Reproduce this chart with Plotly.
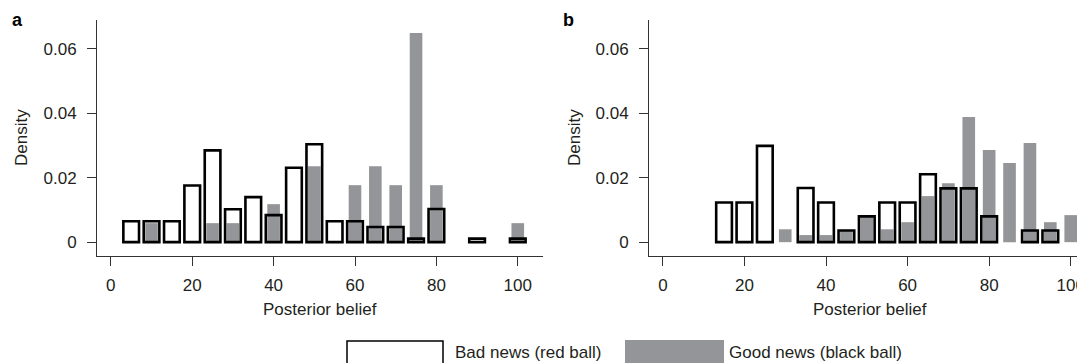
import plotly.graph_objects as go

# ---- data (bin centres in posterior belief, densities) ----
bins_a_bad = [5, 10, 15, 20, 25, 30, 35, 40, 45, 50, 55, 60, 65, 70, 75, 80, 90, 100]
dens_a_bad = [0.0065, 0.0065, 0.0065, 0.0176, 0.0285, 0.0102, 0.0140, 0.0084, 0.0231, 0.0304,
              0.0065, 0.0065, 0.0047, 0.0047, 0.0011, 0.0103, 0.0011, 0.0011]
bins_a_good = [10, 25, 30, 40, 50, 60, 65, 70, 75, 80, 100]
dens_a_good = [0.0059, 0.0059, 0.0059, 0.0118, 0.0236, 0.0177, 0.0236, 0.0177, 0.0650, 0.0177, 0.0059]

bins_b_bad = [15, 20, 25, 35, 40, 45, 50, 55, 60, 65, 70, 75, 80, 90, 95]
dens_b_bad = [0.0123, 0.0123, 0.0299, 0.0168, 0.0123, 0.0036, 0.0080, 0.0123, 0.0123, 0.0211,
              0.0167, 0.0167, 0.0080, 0.0036, 0.0036]
bins_b_good = [30, 35, 40, 45, 50, 55, 60, 65, 70, 75, 80, 85, 90, 95, 100]
dens_b_good = [0.0040, 0.0022, 0.0022, 0.0038, 0.0082, 0.0040, 0.0062, 0.0143, 0.0183, 0.0389,
               0.0286, 0.0246, 0.0308, 0.0062, 0.0084]

x_ticks = [0, 20, 40, 60, 80, 100]
y_ticks = [0, 0.02, 0.04, 0.06]
y_ticklabels = ["0", "0.02", "0.04", "0.06"]
legend_labels = ["Bad news (red ball)", "Good news (black ball)"]
panel_labels = ["a", "b"]
x_title = "Posterior belief"
y_title = "Density"

# the page body has an 8 px margin; size the figure so it fills the window exactly
OFF = 8
W, H = 1085 - OFF, 363 - OFF
FONT = "Liberation Sans, Arial, Helvetica, sans-serif"
TXT = "#231f20"
GRAY = "#939598"
AX = "#333333"

fig = go.Figure()

panels = [
    ("x", "y", bins_a_bad, dens_a_bad, bins_a_good, dens_a_good),
    ("x2", "y2", bins_b_bad, dens_b_bad, bins_b_good, dens_b_good),
]
for xa, ya, bb, db, bg, dg in panels:
    fig.add_trace(go.Bar(x=bg, y=dg, width=3.1, marker=dict(color=GRAY, line=dict(width=0)),
                         xaxis=xa, yaxis=ya, showlegend=False, hoverinfo="x+y"))
    fig.add_trace(go.Bar(x=bb, y=db, width=3.85,
                         marker=dict(color="rgba(255,255,255,0)", line=dict(color="#000000", width=2.6)),
                         xaxis=xa, yaxis=ya, showlegend=False, hoverinfo="x+y"))


def px_x(p):
    """window pixel -> paper fraction"""
    return (p - OFF) / W


def px_y(p):
    return (H - (p - OFF)) / H


common_x = dict(tickmode="array", tickvals=x_ticks, ticks="outside", ticklen=9, tickwidth=1,
                tickcolor=AX, showline=True, linecolor=AX, linewidth=1, showgrid=False,
                zeroline=False, tickfont=dict(size=17, color=TXT, family=FONT),
                ticklabelstandoff=5, ticklabeloverflow="allow")
common_y = dict(tickmode="array", tickvals=y_ticks, ticktext=y_ticklabels, ticks="outside",
                ticklen=9, tickwidth=1, tickcolor=AX, showline=True, linecolor=AX, linewidth=1,
                showgrid=False, zeroline=False, range=[-0.0043, 0.069],
                tickfont=dict(size=17, color=TXT, family=FONT), ticklabelstandoff=7)

fig.update_layout(
    width=W, height=H,
    margin=dict(l=0, r=0, t=0, b=0),
    paper_bgcolor="white", plot_bgcolor="white",
    barmode="overlay",
    font=dict(family=FONT, color=TXT, size=17),
    xaxis=dict(domain=[px_x(97), px_x(543)], range=[-3.4, 106.2], anchor="y", **common_x),
    yaxis=dict(domain=[px_y(256), px_y(20)], anchor="x", **common_y),
    xaxis2=dict(domain=[px_x(649), 1.0], range=[-3.4, 103.5], anchor="y2", **common_x),
    yaxis2=dict(domain=[px_y(256), px_y(20)], anchor="x2", **common_y),
)

ann = []
# axis titles
for cx in (320, 870):
    ann.append(dict(x=px_x(cx), y=px_y(309), xref="paper", yref="paper", text=x_title,
                    showarrow=False, xanchor="center", yanchor="middle",
                    font=dict(size=17, color=TXT, family=FONT)))
for cx in (22, 575):
    ann.append(dict(x=px_x(cx), y=px_y(138), xref="paper", yref="paper", text=y_title,
                    showarrow=False, textangle=-90, xanchor="center", yanchor="middle",
                    font=dict(size=17, color=TXT, family=FONT)))
# panel labels
for lab, cx in zip(panel_labels, (17, 568)):
    ann.append(dict(x=px_x(cx), y=px_y(20), xref="paper", yref="paper", text="<b>%s</b>" % lab,
                    showarrow=False, xanchor="center", yanchor="middle",
                    font=dict(size=18, color="#000000", family=FONT)))
# legend texts
ann.append(dict(x=px_x(453), y=px_y(352), xref="paper", yref="paper", text=legend_labels[0],
                showarrow=False, xanchor="left", yanchor="middle",
                font=dict(size=17, color=TXT, family=FONT)))
ann.append(dict(x=px_x(727), y=px_y(352), xref="paper", yref="paper", text=legend_labels[1],
                showarrow=False, xanchor="left", yanchor="middle",
                font=dict(size=17, color=TXT, family=FONT)))
fig.update_layout(annotations=ann)

# legend key boxes
fig.add_shape(type="rect", xref="paper", yref="paper",
              x0=px_x(347), x1=px_x(443), y0=px_y(372), y1=px_y(341),
              line=dict(color="#000000", width=1.5), fillcolor="white", layer="above")
fig.add_shape(type="rect", xref="paper", yref="paper",
              x0=px_x(625), x1=px_x(724), y0=px_y(372), y1=px_y(340),
              line=dict(width=0), fillcolor=GRAY, layer="above")

fig.write_html("out.html")
